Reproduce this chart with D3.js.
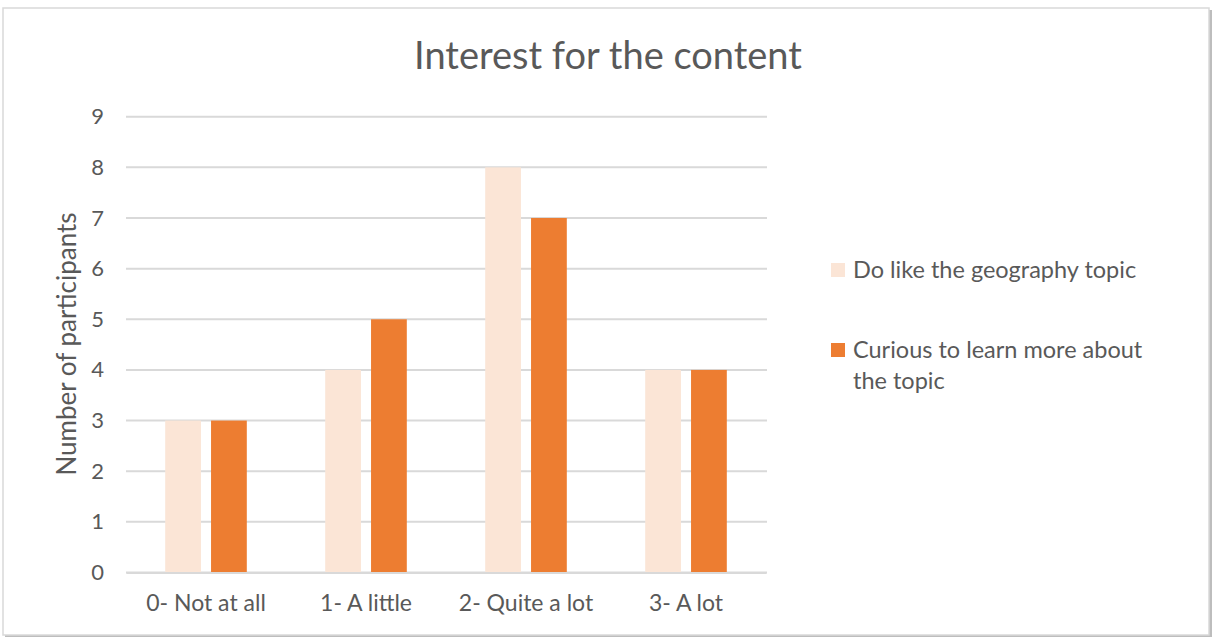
<!DOCTYPE html>
<html><head><meta charset="utf-8">
<script src="https://cdn.jsdelivr.net/npm/d3@7"></script>
<style>body{margin:0;background:#fff;} svg{display:block;}</style>
</head><body>
<svg id="c" width="1216" height="639"></svg>
<script>
const categories = ["0- Not at all", "1- A little", "2- Quite a lot", "3- A lot"];
const seriesNames = ["Do like the geography topic", "Curious to learn more about the topic"];
const likeValues = [3, 4, 8, 4];
const curiousValues = [3, 5, 7, 4];
const yTicks = [0,1,2,3,4,5,6,7,8,9];
const colors = ["#FBE5D6", "#ED7D31"];

const svg = d3.select("#c");
const font = "Lato, 'Open Sans', sans-serif";
const textColor = "#595959";

// frame
svg.append("rect").attr("x",5).attr("y",10).attr("width",1207).attr("height",627).attr("fill","#bdbdbd");
svg.append("rect").attr("x",3).attr("y",8).attr("width",1206).attr("height",627).attr("fill","#fff").attr("stroke","#d9d9d9").attr("stroke-width",1.5);

const x0 = d3.scaleBand().domain(categories).range([126, 766]);
const x1 = d3.scaleBand().domain([0,1]).range([0, 81.6]).paddingInner(0.22);
const y = d3.scaleLinear().domain([0, 9]).range([572.5, 116.7]);

// gridlines
svg.append("g").selectAll("line").data(yTicks).join("line")
  .attr("x1",126).attr("x2",767).attr("y1",d=>y(d)).attr("y2",d=>y(d))
  .attr("stroke","#d9d9d9").attr("stroke-width",2);

// y tick labels via axis
const yAxis = svg.append("g").attr("transform","translate(126,0)")
  .call(d3.axisLeft(y).tickValues(yTicks).tickSize(0).tickPadding(22));
yAxis.select(".domain").remove();
yAxis.selectAll("text").attr("font-family",font).attr("font-size",22).attr("fill",textColor);

// bars
const data = categories.map((c,i)=>({c, vals:[likeValues[i], curiousValues[i]]}));
const g = svg.append("g").selectAll("g").data(data).join("g")
  .attr("transform", d=>`translate(${x0(d.c) + (x0.bandwidth()-81.6)/2},0)`);
g.selectAll("rect").data(d=>d.vals.map((v,k)=>({v,k}))).join("rect")
  .attr("x", d=>x1(d.k)).attr("width", x1.bandwidth())
  .attr("y", d=>y(d.v)).attr("height", d=>y(0)-y(d.v))
  .attr("fill", d=>colors[d.k]);

// x axis
const xAxis = svg.append("g").attr("transform",`translate(0,${y(0)})`)
  .call(d3.axisBottom(x0).tickSize(0).tickPadding(22));
xAxis.select(".domain").attr("stroke","#d9d9d9").attr("stroke-width",2);
xAxis.selectAll("text").attr("font-family",font).attr("font-size",23).attr("fill",textColor);

// title
svg.append("text").attr("x",608).attr("y",69).attr("text-anchor","middle")
  .attr("font-family",font).attr("font-size",38).attr("fill",textColor).text("Interest for the content");

// y label
svg.append("text").attr("transform","translate(76,344) rotate(-90)").attr("text-anchor","middle")
  .attr("font-family",font).attr("font-size",26).attr("fill",textColor).text("Number of participants");

// legend
const leg = [
  {lines:["Do like the geography topic"], y:270},
  {lines:["Curious to learn more about","the topic"], y:350}
];
leg.forEach((l,i)=>{
  svg.append("rect").attr("x",831).attr("y",l.y-7).attr("width",14).attr("height",14).attr("fill",colors[i]);
  const t = svg.append("text").attr("x",853).attr("y",l.y+8)
    .attr("font-family",font).attr("font-size",23.5).attr("fill",textColor);
  l.lines.forEach((s,j)=>t.append("tspan").attr("x",853).attr("dy", j?31:0).text(s));
});
</script>
</body></html>
